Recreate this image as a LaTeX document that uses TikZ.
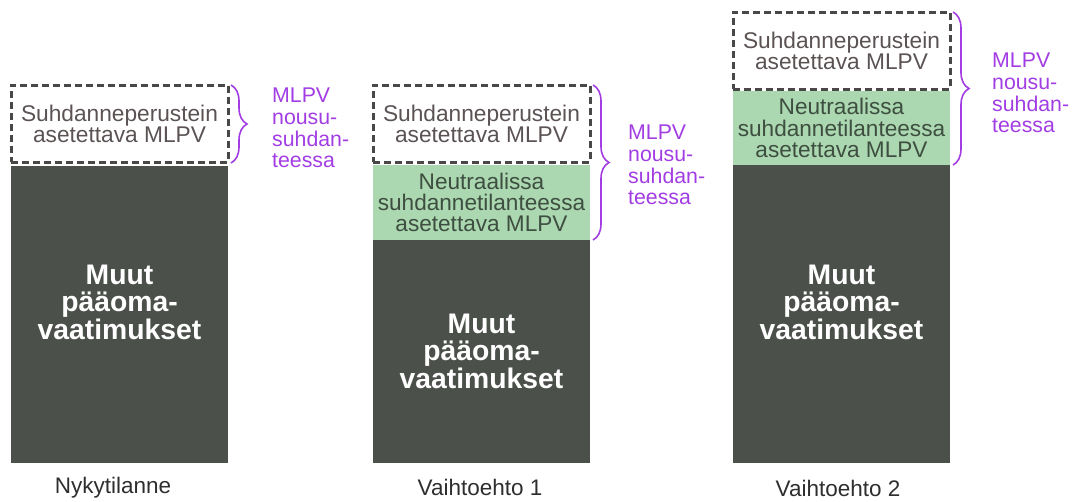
\documentclass[tikz,border=0pt]{standalone}
\usepackage{fontspec}
\setmainfont{Liberation Sans}
\usetikzlibrary{decorations.pathreplacing}
\definecolor{darkbox}{HTML}{4B514A}
\definecolor{greenbox}{HTML}{ABD8B0}
\definecolor{greentext}{HTML}{3E4E40}
\definecolor{graytext}{HTML}{5B5353}
\definecolor{mlpv}{HTML}{A23DE3}
\definecolor{dashgray}{HTML}{4A4846}
\definecolor{captext}{HTML}{2E2E2E}
\begin{document}
\begin{tikzpicture}[x=1pt,y=-1pt,
  boxbase/.style={anchor=north west, inner sep=0pt, outer sep=0pt, minimum width=217pt},
  dashbox/.style={boxbase, draw=dashgray, line width=3pt, dash pattern=on 7pt off 4pt,
    minimum height=77pt, text=graytext, font=\fontsize{22.7}{21}\selectfont, align=center},
  greenbx/.style={boxbase, fill=greenbox, text=greentext,
    font=\fontsize{22.6}{21.3}\selectfont, align=center},
  darkbx/.style={boxbase, fill=darkbox},
  muut/.style={text=white, inner sep=0pt, font=\bfseries\fontsize{28.3}{27.5}\selectfont, align=center},
  bracestyle/.style={draw=mlpv, line width=1.6pt, decorate, decoration={brace, amplitude=16pt}},
  mlpvlabel/.style={anchor=north west, text=mlpv, inner sep=0pt,
    font=\fontsize{21.3}{21.7}\selectfont, align=left},
  caption/.style={text=captext, inner sep=0pt, font=\fontsize{22.5}{22}\selectfont}
]
\useasboundingbox (0,0) rectangle (1074,501);

% Column 1: Nykytilanne
\node[dashbox] (d1) at (11,85) {Suhdanneperustein\\asetettava MLPV};
\node[darkbx, minimum height=297pt] (k1) at (11,166) {};
\node[muut] (m1) at (119.5,302) {Muut\\pääoma-\\vaatimukset};
\coordinate (b1t) at (231,85);
\coordinate (b1b) at (231,163);
\draw[bracestyle] (b1t) -- (b1b);
\node[mlpvlabel] (l1) at (272,88) {MLPV\\nousu-\\suhdan-\\teessa};
\node[caption] (c1) at (113,488) {Nykytilanne};

% Column 2: Vaihtoehto 1
\node[dashbox] (d2) at (373,85) {Suhdanneperustein\\asetettava MLPV};
\node[greenbx, minimum height=75pt] (g2) at (373,165) {Neutraalissa\\suhdannetilanteessa\\asetettava MLPV};
\node[darkbx, minimum height=223pt] (k2) at (373,240) {};
\node[muut] (m2) at (481.5,351) {Muut\\pääoma-\\vaatimukset};
\coordinate (b2t) at (593,85);
\coordinate (b2b) at (593,240);
\draw[bracestyle] (b2t) -- (b2b);
\node[mlpvlabel] (l2) at (628,125) {MLPV\\nousu-\\suhdan-\\teessa};
\node[caption] (c2) at (480,487) {Vaihtoehto 1};

% Column 3: Vaihtoehto 2
\node[dashbox] (d3) at (733,12) {Suhdanneperustein\\asetettava MLPV};
\node[greenbx, minimum height=74pt] (g3) at (733,91) {Neutraalissa\\suhdannetilanteessa\\asetettava MLPV};
\node[darkbx, minimum height=298pt] (k3) at (733,165) {};
\node[muut] (m3) at (841.5,302) {Muut\\pääoma-\\vaatimukset};
\coordinate (b3t) at (953,12);
\coordinate (b3b) at (953,165);
\draw[bracestyle] (b3t) -- (b3b);
\node[mlpvlabel] (l3) at (992,53) {MLPV\\nousu-\\suhdan-\\teessa};
\node[caption] (c3) at (838,488) {Vaihtoehto 2};
\end{tikzpicture}
\end{document}
